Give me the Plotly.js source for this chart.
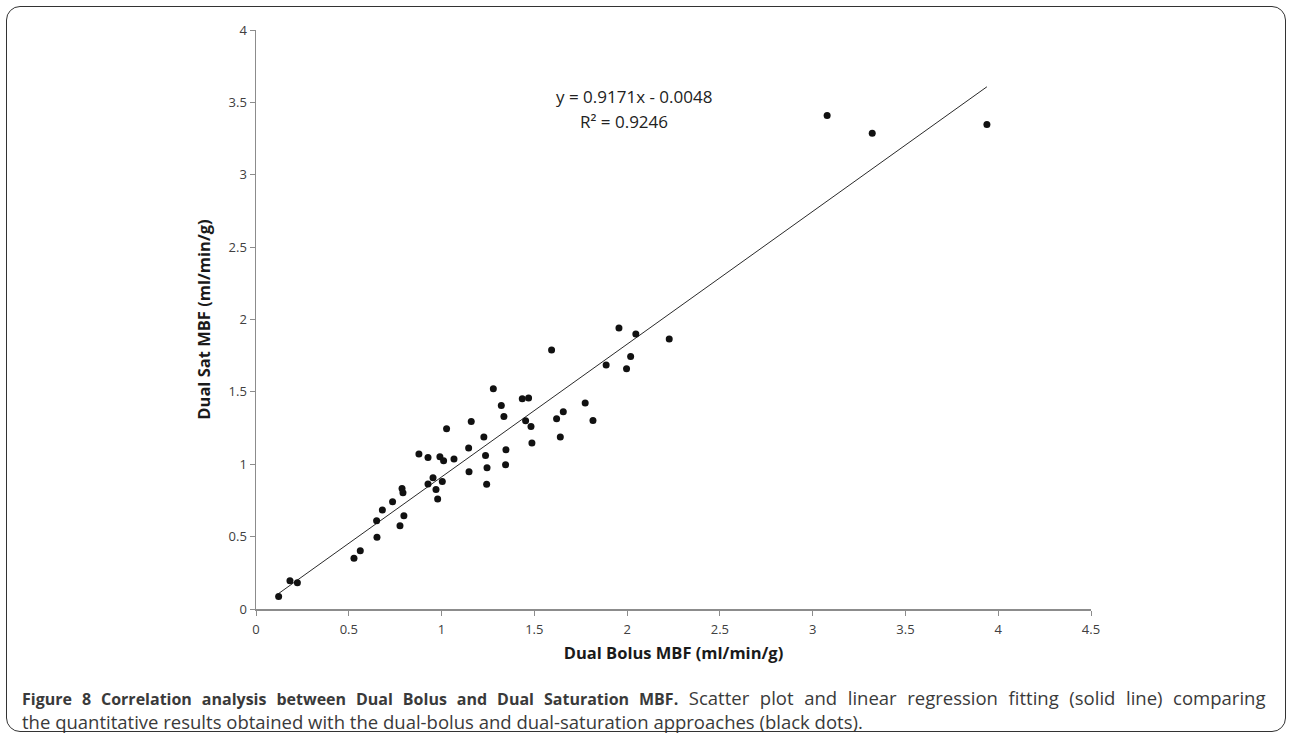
<!DOCTYPE html>
<html>
<head>
<meta charset="utf-8">
<script src="https://cdn.plot.ly/plotly-3.0.1.min.js"></script>
<style>
html,body{margin:0;padding:0;background:#fff;}
#wrap{position:relative;width:1292px;height:739px;}
#chart{position:absolute;left:0;top:0;width:1292px;height:739px;}
#frame{position:absolute;left:6px;top:6px;width:1278px;height:724px;border:1.6px solid #333;border-radius:14px;pointer-events:none;}
</style>
</head>
<body>
<div id="wrap"><div id="chart"></div><div id="frame"></div></div>
<script>
// Dual Bolus MBF (x) and Dual Sat MBF (y), ml/min/g
const dualBolus = [0.122,0.183,0.223,0.528,0.562,0.652,0.650,0.681,0.736,0.776,0.797,0.787,0.792,
  0.878,0.927,0.927,0.954,0.970,0.979,0.991,1.011,1.004,1.027,1.067,1.148,1.146,1.160,1.228,1.237,
  1.245,1.243,1.279,1.322,1.336,1.347,1.345,1.435,1.469,1.453,1.482,1.487,
  1.593,1.620,1.656,1.640,1.774,1.816,1.887,1.956,1.997,2.019,2.047,2.227,
  3.078,3.321,3.939];
const dualSat = [0.087,0.195,0.182,0.350,0.403,0.495,0.610,0.684,0.741,0.575,0.644,0.833,0.803,
  1.070,1.047,0.863,0.907,0.826,0.760,1.052,1.024,0.881,1.245,1.036,0.948,1.112,1.296,1.188,1.061,
  0.976,0.861,1.521,1.406,1.330,1.100,0.996,1.452,1.457,1.300,1.261,1.146,
  1.789,1.314,1.363,1.188,1.423,1.303,1.685,1.941,1.660,1.744,1.899,1.865,
  3.409,3.287,3.347];
const slope = 0.9171, intercept = -0.0048, r2 = 0.9246;
const xTicks = [0,0.5,1,1.5,2,2.5,3,3.5,4,4.5];
const yTicks = [0,0.5,1,1.5,2,2.5,3,3.5,4];
const captionBold = 'Figure 8 Correlation analysis between Dual Bolus and Dual Saturation MBF.';
const captionLine1 = 'Scatter plot and linear regression fitting (solid line) comparing';
const captionLine2 = 'the quantitative results obtained with the dual-bolus and dual-saturation approaches (black dots).';

const xmin = Math.min(...dualBolus), xmax = Math.max(...dualBolus);
const fitX = [xmin, xmax];
const fitY = fitX.map(v => slope*v + intercept);

const tickFont = {family:'Open Sans, sans-serif', size:13, color:'#404040'};
const titleFont = {family:'Open Sans, sans-serif', size:16.5, color:'#1a1a1a', weight:700};
const eqFont = {family:'Open Sans, sans-serif', size:17, color:'#222'};
const capFont = {family:'Open Sans, sans-serif', size:18.5, color:'#3a3a3a'};

const data = [
  {x: fitX, y: fitY, type:'scatter', mode:'lines', line:{color:'#2a2a2a', width:1}, hoverinfo:'skip', showlegend:false},
  {x: dualBolus, y: dualSat, type:'scatter', mode:'markers', marker:{color:'#111', size:7}, showlegend:false}
];

const px2paperX = p => (p-256)/835;
const px2paperY = p => (609-p)/579;

const layout = {
  width:1292, height:739,
  margin:{l:256, r:201, t:30, b:130},
  paper_bgcolor:'#fff', plot_bgcolor:'#fff',
  showlegend:false,
  xaxis:{range:[0,4.5], tickvals:xTicks, ticktext:xTicks.map(String), showgrid:false, zeroline:false,
    showline:true, linecolor:'#8c8c8c', linewidth:1.5, ticks:'outside', ticklen:5, tickcolor:'#8c8c8c',
    ticklabelstandoff:3,
    tickfont:tickFont, title:{text:'<b>Dual Bolus MBF (ml/min/g)</b>', font:titleFont, standoff:10}},
  yaxis:{range:[0,4], tickvals:yTicks, ticktext:yTicks.map(String), showgrid:false, zeroline:false,
    showline:true, linecolor:'#8c8c8c', linewidth:1.5, ticks:'outside', ticklen:5, tickcolor:'#8c8c8c',
    tickfont:tickFont, title:{text:'<b>Dual Sat MBF (ml/min/g)</b>', font:titleFont, standoff:14}},
  annotations:[
    {xref:'x', yref:'y', x:2.037, y:3.538, text:'y = '+slope.toFixed(4)+'x - '+Math.abs(intercept).toFixed(4),
      showarrow:false, font:eqFont, xanchor:'center', yanchor:'middle'},
    {xref:'x', yref:'y', x:1.983, y:3.366, text:'R² = '+r2.toFixed(4),
      showarrow:false, font:eqFont, xanchor:'center', yanchor:'middle'},
    {xref:'paper', yref:'paper', x:px2paperX(20), y:px2paperY(710), xanchor:'left', yanchor:'middle', align:'left', showarrow:false,
      text:'<span style="word-spacing:5.8px"><span style="font-size:16px"><b>'+captionBold+'</b></span> '+captionLine1+'</span><br>'+captionLine2,
      font:capFont}
  ]
};

Plotly.newPlot('chart', data, layout, {displayModeBar:false, staticPlot:true});
</script>
</body>
</html>
